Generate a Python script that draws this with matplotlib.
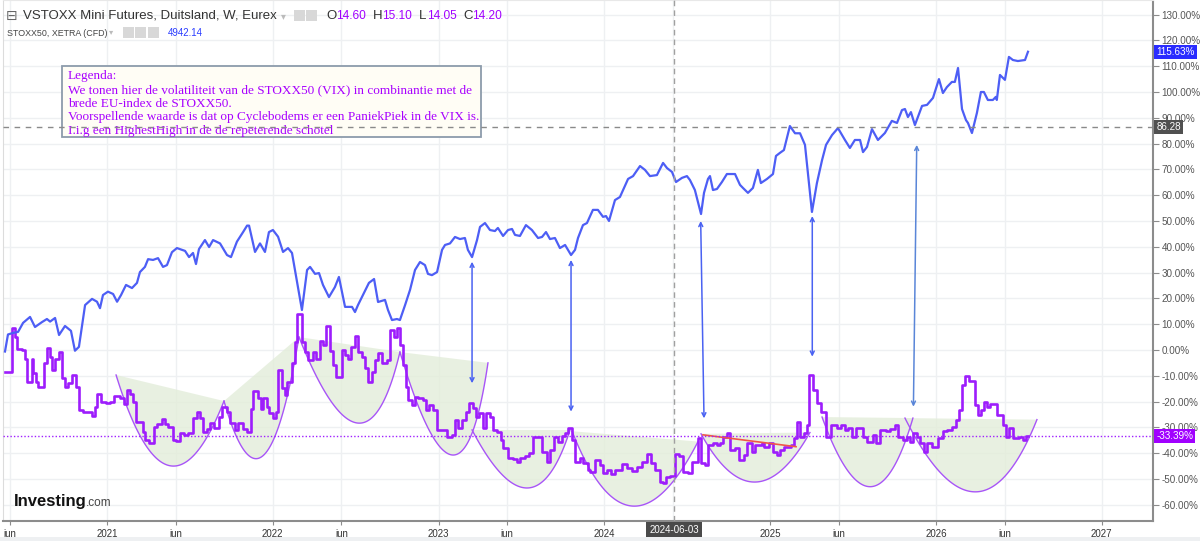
import matplotlib
matplotlib.use("Agg")
import matplotlib.pyplot as plt
import matplotlib.transforms as mtransforms
from matplotlib.patches import Rectangle
import numpy as np

plt.rcParams["font.family"] = ["Liberation Sans", "DejaVu Sans"]

# STOXX50 (% change since start), time in decimal years
stoxx_t = [
    2020.385, 2020.403, 2020.433, 2020.464, 2020.494, 2020.536, 2020.566, 2020.608, 2020.638, 2020.657,
    2020.687, 2020.711, 2020.747, 2020.783, 2020.807, 2020.831, 2020.868, 2020.910, 2020.940, 2020.958, 2020.976,
    2021.006, 2021.037, 2021.061, 2021.085, 2021.115, 2021.151, 2021.181, 2021.199, 2021.229, 2021.248,
    2021.278, 2021.308, 2021.338, 2021.362, 2021.392, 2021.422, 2021.453, 2021.471, 2021.495, 2021.519,
    2021.537, 2021.555, 2021.591, 2021.616, 2021.640, 2021.682, 2021.724, 2021.748, 2021.784, 2021.821,
    2021.845, 2021.857, 2021.893, 2021.923, 2021.953, 2021.977,
    2022.001, 2022.032, 2022.062, 2022.092, 2022.116, 2022.176, 2022.207, 2022.225, 2022.255, 2022.279,
    2022.303, 2022.339, 2022.375, 2022.399, 2022.436, 2022.478, 2022.496, 2022.514, 2022.544, 2022.580,
    2022.611, 2022.635, 2022.677, 2022.695, 2022.719, 2022.749, 2022.767, 2022.798, 2022.828, 2022.858,
    2022.888, 2022.918, 2022.936, 2022.960, 2022.991,
    2023.021, 2023.039, 2023.069, 2023.099, 2023.129, 2023.159, 2023.177, 2023.202, 2023.232, 2023.250,
    2023.280, 2023.310, 2023.340, 2023.358, 2023.389, 2023.419, 2023.443, 2023.461, 2023.491, 2023.527,
    2023.563, 2023.600, 2023.624, 2023.648, 2023.672, 2023.702, 2023.732, 2023.763, 2023.799, 2023.823,
    2023.841, 2023.871, 2023.895, 2023.931, 2023.961, 2023.992,
    2024.010, 2024.028, 2024.064, 2024.094, 2024.143, 2024.173, 2024.215, 2024.245, 2024.275, 2024.317,
    2024.354, 2024.378, 2024.408, 2024.432, 2024.468, 2024.498, 2024.516, 2024.546, 2024.583, 2024.601,
    2024.625, 2024.637, 2024.655, 2024.679, 2024.709, 2024.739, 2024.788, 2024.818, 2024.836, 2024.866,
    2024.896, 2024.926, 2024.944, 2024.981,
    2025.017, 2025.035, 2025.059, 2025.083, 2025.119, 2025.150, 2025.180, 2025.210, 2025.252, 2025.282,
    2025.313, 2025.337, 2025.373, 2025.409, 2025.451, 2025.481, 2025.511, 2025.542, 2025.560, 2025.584,
    2025.614, 2025.650, 2025.692, 2025.734, 2025.765, 2025.795, 2025.813, 2025.831, 2025.849, 2025.873,
    2025.916, 2025.946, 2025.982,
    2026.018, 2026.042, 2026.066, 2026.096, 2026.114, 2026.133, 2026.157, 2026.181, 2026.193, 2026.217,
    2026.247, 2026.271, 2026.289, 2026.313, 2026.343, 2026.361, 2026.367, 2026.386, 2026.416, 2026.440,
    2026.464, 2026.494, 2026.537, 2026.555,
]
stoxx_pct = [
    -0.6, 6.0, 6.6, 7.0, 10.5, 12.8, 8.9, 10.8, 12.0, 11.0,
    12.4, 5.8, 9.3, 7.4, -0.3, 1.2, 17.4, 19.8, 18.7, 16.2, 21.3,
    22.6, 21.7, 18.7, 21.3, 25.2, 24.0, 26.0, 30.2, 32.2, 35.2,
    34.9, 35.6, 32.2, 32.9, 37.9, 39.5, 38.8, 38.4, 36.0, 37.6,
    33.3, 39.1, 42.6, 39.9, 42.6, 41.3, 36.8, 36.0, 42.0, 45.7,
    48.2, 48.2, 38.0, 41.3, 38.0, 45.7,
    46.5, 43.9, 38.0, 39.5, 37.6, 15.5, 31.0, 32.2, 29.5, 29.8,
    25.2, 20.5, 24.4, 28.3, 16.7, 16.7, 14.7, 17.4, 21.3, 26.0,
    27.5, 18.6, 19.4, 15.5, 11.6, 12.0, 11.6, 17.4, 23.3, 31.0,
    34.1, 32.9, 29.5, 29.0, 30.2,
    38.8, 40.7, 41.3, 43.8, 43.0, 43.4, 38.8, 36.0, 42.6, 47.7,
    49.2, 46.5, 46.1, 47.3, 44.2, 46.5, 46.9, 44.6, 44.2, 48.4,
    46.5, 43.4, 43.8, 45.7, 43.0, 43.4, 39.5, 40.7, 36.8, 38.8,
    43.4, 48.4, 49.2, 54.3, 54.3, 51.6,
    51.9, 50.0, 58.1, 59.3, 66.3, 67.4, 71.3, 69.8, 67.4, 67.8,
    72.5, 70.5, 69.0, 65.1, 66.7, 67.4, 65.9, 62.0, 52.7, 60.9,
    66.3, 67.4, 62.0, 62.4, 65.1, 68.2, 68.2, 64.0, 62.8, 60.9,
    62.8, 69.8, 64.7, 66.3,
    68.2, 75.2, 76.4, 77.5, 86.8, 84.0, 84.0, 79.5, 53.5, 64.7,
    73.6, 79.5, 83.3, 86.0, 81.4, 78.3, 81.4, 81.4, 76.7, 78.7,
    85.6, 81.4, 84.1, 88.8, 88.0, 93.0, 93.4, 90.3, 92.2, 87.2,
    94.6, 95.0, 97.7,
    105.0, 99.6, 101.9, 103.9, 103.9, 109.3, 93.4, 89.1, 88.0, 84.1,
    91.9, 100.0, 100.0, 96.9, 96.9, 98.1, 96.9, 106.6, 104.7, 113.6,
    112.4, 112.0, 112.4, 115.6,
]

# VSTOXX (% change), weekly steps
vstoxx_t = [
    2020.385, 2020.425, 2020.445, 2020.459, 2020.486, 2020.506, 2020.520, 2020.546, 2020.556, 2020.570,
    2020.586, 2020.620, 2020.637, 2020.657, 2020.671, 2020.687, 2020.713, 2020.731, 2020.747, 2020.767,
    2020.787, 2020.813, 2020.833, 2020.854, 2020.878, 2020.908, 2020.928, 2020.942, 2020.962, 2020.994,
    2021.018, 2021.043, 2021.079, 2021.103, 2021.119, 2021.139, 2021.159, 2021.175, 2021.216, 2021.229,
    2021.254, 2021.284, 2021.304, 2021.330, 2021.350, 2021.370, 2021.397, 2021.416, 2021.441, 2021.465,
    2021.491, 2021.517, 2021.541, 2021.561, 2021.577, 2021.602, 2021.622, 2021.646, 2021.676, 2021.692,
    2021.722, 2021.742, 2021.772, 2021.792, 2021.819, 2021.843, 2021.867, 2021.883, 2021.909, 2021.929,
    2021.943, 2021.963, 2021.979, 2021.999,
    2022.019, 2022.033, 2022.054, 2022.074, 2022.088, 2022.114, 2022.134, 2022.146, 2022.176, 2022.194,
    2022.214, 2022.244, 2022.261, 2022.285, 2022.305, 2022.321, 2022.345, 2022.362, 2022.382, 2022.416,
    2022.436, 2022.456, 2022.470, 2022.496, 2022.516, 2022.536, 2022.556, 2022.576, 2022.597, 2022.617,
    2022.637, 2022.657, 2022.687, 2022.707, 2022.731, 2022.751, 2022.767, 2022.784, 2022.804, 2022.818,
    2022.838, 2022.858, 2022.878, 2022.904, 2022.924, 2022.944, 2022.968, 2022.989,
    2023.049, 2023.079, 2023.099, 2023.119, 2023.139, 2023.165, 2023.185, 2023.206, 2023.226, 2023.246,
    2023.266, 2023.286, 2023.310, 2023.326, 2023.351, 2023.375, 2023.390, 2023.421, 2023.447, 2023.471,
    2023.491, 2023.521, 2023.547, 2023.571, 2023.622, 2023.652, 2023.672, 2023.696, 2023.722, 2023.743,
    2023.763, 2023.779, 2023.803, 2023.823, 2023.853, 2023.873, 2023.903, 2023.913, 2023.943, 2023.974,
    2023.994,
    2024.014, 2024.038, 2024.064, 2024.104, 2024.135, 2024.165, 2024.195, 2024.225, 2024.255, 2024.281,
    2024.305, 2024.335, 2024.355, 2024.372, 2024.396, 2024.426, 2024.452, 2024.476, 2024.506, 2024.527,
    2024.567, 2024.581, 2024.607, 2024.627, 2024.657, 2024.681, 2024.697, 2024.717, 2024.738, 2024.758,
    2024.788, 2024.814, 2024.842, 2024.862, 2024.888, 2024.908, 2024.949, 2024.964, 2024.995,
    2025.015, 2025.039, 2025.059, 2025.083, 2025.109, 2025.124, 2025.144, 2025.164, 2025.180, 2025.204,
    2025.220, 2025.236, 2025.260, 2025.284, 2025.305, 2025.337, 2025.365, 2025.401, 2025.425, 2025.451,
    2025.471, 2025.492, 2025.518, 2025.562, 2025.586, 2025.618, 2025.638, 2025.662, 2025.698, 2025.722,
    2025.753, 2025.773, 2025.799, 2025.823, 2025.843, 2025.859, 2025.884, 2025.904, 2025.928, 2025.944,
    2025.974,
    2026.014, 2026.040, 2026.064, 2026.095, 2026.121, 2026.141, 2026.155, 2026.175, 2026.201, 2026.235,
    2026.255, 2026.270, 2026.290, 2026.310, 2026.326, 2026.346, 2026.366, 2026.402, 2026.422, 2026.442,
    2026.463, 2026.503, 2026.527, 2026.543, 2026.555,
]
vstoxx_pct = [
    -8.4, 8.6, 5.2, 0.4, 0.0, -3.5, -12.3, -3.5, -9.0, -12.3,
    -14.3, -5.0, 0.6, -2.6, -7.8, -3.6, -0.6, -11.0, -14.3, -12.7,
    -9.7, -14.3, -23.3, -23.9, -24.2, -25.6, -22.3, -17.1, -20.1, -20.5,
    -20.1, -17.8, -18.8, -20.8, -15.6, -16.9, -20.1, -27.8, -31.7, -34.9,
    -36.2, -30.0, -28.7, -26.9, -28.7, -29.7, -34.9, -35.1, -32.3, -32.9,
    -32.0, -26.4, -23.9, -26.4, -31.7, -30.8, -28.2, -30.4, -25.8, -22.0,
    -23.9, -28.2, -31.0, -28.2, -30.8, -31.7, -23.0, -16.1, -18.8, -22.7,
    -18.6, -22.3, -24.6, -26.4,
    -23.9, -7.8, -14.9, -17.4, -12.3, -5.2, 3.2, 14.0, 3.2, -0.6,
    -3.9, -0.6, -3.6, 3.6, 1.9, 9.3, -0.3, -5.8, -10.3, 0.0,
    -1.9, -3.6, 1.3, 5.4, -0.6, -2.6, -7.1, -12.3, -8.4, -3.9,
    -1.3, -5.2, -3.9, 7.8, 5.2, 8.4, 1.9, -5.8, -14.2, -19.4,
    -21.3, -18.1, -18.8, -19.4, -23.3, -21.3, -23.3, -31.0,
    -33.9, -33.0, -27.1, -30.4, -27.1, -23.9, -20.7, -22.6, -25.8, -24.5,
    -30.4, -24.3, -25.8, -31.0, -31.7, -34.9, -38.1, -42.0, -42.4, -43.3,
    -42.0, -41.1, -40.1, -33.9, -39.4, -43.3, -38.8, -33.9, -35.5, -33.3,
    -32.3, -30.4, -34.9, -43.3, -42.0, -43.9, -46.5, -47.2, -42.6, -44.6,
    -47.8,
    -46.5, -48.0, -46.5, -44.3, -45.9, -46.9, -45.2, -43.3, -40.3, -43.9,
    -46.5, -51.0, -51.7, -49.1, -48.8, -40.4, -41.0, -47.2, -47.8, -43.3,
    -34.2, -43.9, -44.6, -36.8, -35.9, -36.8, -36.2, -33.6, -32.0, -38.8,
    -38.1, -42.6, -40.7, -36.2, -39.5, -36.8, -36.2, -37.5, -36.2,
    -39.5, -40.7, -38.8, -37.8, -37.5, -36.8, -34.2, -27.8, -33.6, -32.0,
    -29.1, -9.7, -15.5, -20.7, -23.9, -33.6, -29.1, -30.4, -29.1, -31.0,
    -30.4, -33.6, -30.4, -33.6, -35.5, -32.9, -36.2, -31.0, -31.3, -30.7,
    -29.1, -33.6, -34.9, -33.6, -35.5, -32.0, -33.6, -36.2, -39.4, -36.2,
    -37.5,
    -34.2, -31.3, -31.0, -29.7, -27.1, -23.3, -13.6, -10.1, -11.9, -21.3,
    -25.2, -23.3, -20.0, -22.0, -21.0, -20.8, -25.2, -29.1, -33.6, -30.4,
    -34.2, -33.6, -34.9, -33.4, -33.4,
]

# "schotel" arcs drawn on the VSTOXX: left end, lowest point, right end
arc_left_t = [2021.055, 2021.706, 2022.158, 2022.767, 2023.202, 2023.805, 2024.583, 2025.313, 2025.813]
arc_left_v = [-9.7, -19.8, 5.0, -0.8, -31.0, -31.5, -32.5, -26.0, -26.4]
arc_low_t = [2021.374, 2021.941, 2022.508, 2023.081, 2023.533, 2024.167, 2024.908, 2025.602, 2026.235]
arc_low_v = [-44.8, -41.0, -28.3, -40.7, -53.5, -60.5, -51.2, -53.0, -55.0]
arc_right_t = [2021.706, 2022.158, 2022.767, 2023.298, 2023.793, 2024.565, 2025.240, 2025.861, 2026.609]
arc_right_v = [-19.8, 5.0, -0.8, -5.0, -31.0, -35.5, -32.0, -26.4, -27.0]

# double arrows: STOXX50 low <-> VSTOXX panic peak
arrow_top_t = [2023.202, 2023.799, 2024.581, 2025.254, 2025.884]
arrow_top_v = [34.2, 34.9, 50.0, 51.9, 79.5]
arrow_bot_t = [2023.202, 2023.799, 2024.601, 2025.254, 2025.864]
arrow_bot_v = [-12.9, -23.9, -26.5, -2.6, -22.0]

trend_t = [2024.595, 2025.156]
trend_v = [-32.9, -37.5]

crosshair_t = 2024.42
level_line = 86.28
last_stoxx = 115.63
last_vstoxx = -33.39

tick_pos = [2020.414, 2021, 2021.414, 2022, 2022.414, 2023, 2023.414, 2024, 2024.414,
            2025, 2025.414, 2026, 2026.414, 2027]
tick_lab = ["jun", "2021", "jun", "2022", "jun", "2023", "jun", "2024", "",
            "2025", "jun", "2026", "jun", "2027"]

legend_lines = [
    "Legenda:",
    "We tonen hier de volatiliteit van de STOXX50 (VIX) in combinantie met de",
    "brede EU-index de STOXX50.",
    "Voorspellende waarde is dat op Cyclebodems er een PaniekPiek in de VIX is.",
    "I.i.g een HighestHigh in de de repeterende schotel",
]


def arc_points(p0, pb, p2, n=80):
    # quadratic bezier through the lowest point at its middle
    p0, pb, p2 = np.array(p0), np.array(pb), np.array(p2)
    p1 = 2 * pb - 0.5 * (p0 + p2)
    s = np.linspace(0, 1, n)[:, None]
    pts = (1 - s) ** 2 * p0 + 2 * s * (1 - s) * p1 + s ** 2 * p2
    return pts[:, 0], pts[:, 1]


W, H = 1200, 541
fig = plt.figure(figsize=(W / 100, H / 100), dpi=100)
ax = fig.add_axes([3 / W, 20 / H, 1150 / W, 521 / H])
ax.set_xlim(2020.373, 2027.309)
ax.set_ylim(-66.3, 135.66)

ax.set_yticks(np.arange(-60, 131, 10))
ax.yaxis.set_major_formatter(matplotlib.ticker.FuncFormatter(lambda v, p: f"{v:.2f}%"))
ax.yaxis.tick_right()
ax.set_xticks(tick_pos)
ax.set_xticklabels(tick_lab)
ax.tick_params(axis="y", length=4, color="#8c8c8c", labelsize=7.1, labelcolor="#555555", pad=2)
ax.tick_params(axis="x", length=3, color="#8c8c8c", labelsize=7, labelcolor="#333333", pad=3)
ax.grid(True, color="#eef0f2", lw=1.0, zorder=0)
ax.set_axisbelow(True)
for side in ("right", "bottom"):
    ax.spines[side].set_color("#8c8c8c")
    ax.spines[side].set_linewidth(1.5)
ax.spines["left"].set_color("#dcdcdc")
ax.spines["top"].set_color("#e8e8e8")

# schotels
for i in range(len(arc_low_t)):
    xs, ys = arc_points((arc_left_t[i], arc_left_v[i]), (arc_low_t[i], arc_low_v[i]),
                        (arc_right_t[i], arc_right_v[i]))
    ax.fill(xs, ys, color="#e3edda", alpha=0.8, lw=0, zorder=1)
    ax.plot(xs, ys, color="#a855f7", lw=1.0, zorder=2)

ax.step(vstoxx_t, vstoxx_pct, where="post", color="#9d1dfc", lw=1.9, zorder=3)
ax.plot(stoxx_t, stoxx_pct, color="#4d5ef5", lw=1.6, zorder=3)

ax.plot(trend_t, trend_v, color="#f0554a", lw=1.2, zorder=4)

for i in range(len(arrow_top_t)):
    col = "#4a62f2" if i < len(arrow_top_t) - 1 else "#5a86d8"
    ax.annotate("", xy=(arrow_bot_t[i], arrow_bot_v[i]), xytext=(arrow_top_t[i], arrow_top_v[i]),
                arrowprops=dict(arrowstyle="<->", color=col, lw=1.1, shrinkA=0, shrinkB=0,
                                mutation_scale=7), zorder=4)

ax.axhline(last_vstoxx, color="#a020ff", lw=1.0, ls=(0, (1, 1.5)), zorder=4)
ax.axvline(crosshair_t, color="#a0a0a0", lw=1.0, ls=(0, (4, 3)), zorder=4)

# legend box (in the chart, under the price line)
ax.add_patch(Rectangle((62 / W, 1 - 137 / H), 419 / W, 71 / H, transform=fig.transFigure,
                       facecolor="#fffdf5", edgecolor="#8c9bab", lw=1.3, zorder=5, clip_on=False))
ax.text(68 / W, 1 - 70 / H, "\n".join(legend_lines), transform=fig.transFigure, ha="left", va="top",
        fontsize=9.5, family="Liberation Serif", color="#a800ff", linespacing=1.2, zorder=6)
ax.axhline(level_line, color="#8a8a8a", lw=1.0, ls=(0, (4, 4)), zorder=7)

# value labels on the right scale
trans = mtransforms.blended_transform_factory(ax.transAxes, ax.transData)
for val, txt, bg in [(last_stoxx, f"{last_stoxx:.2f}%", "#2a2cff"),
                     (level_line, f"{level_line:.2f}", "#505050"),
                     (last_vstoxx, f"{last_vstoxx:.2f}%", "#a100ff")]:
    ax.text(1.003, val, txt, transform=trans, ha="left", va="center", fontsize=7.1, color="white",
            bbox=dict(boxstyle="square,pad=0.2", fc=bg, ec="none"), zorder=8, clip_on=False)

xtrans = mtransforms.blended_transform_factory(ax.transData, ax.transAxes)
ax.text(crosshair_t, -0.018, "2024-06-03", transform=xtrans, ha="center", va="center", fontsize=7,
        color="white", bbox=dict(boxstyle="square,pad=0.35", fc="#4a4a4a", ec="none"), clip_on=False, zorder=8)


# header
def ftext(x, y, s, **kw):
    fig.text(x / W, 1 - y / H, s, va="center", ha="left", **kw)


ftext(6, 16, "\u229f", fontsize=10, color="#666666")
ftext(23, 16, "VSTOXX Mini Futures, Duitsland, W, Eurex", fontsize=9.5, color="#333333")
ftext(281, 16, "\u25be", fontsize=7, color="#bbbbbb")
for x0 in (294, 306):
    fig.patches.append(Rectangle((x0 / W, 1 - 21 / H), 11 / W, 11 / H, transform=fig.transFigure,
                                 facecolor="#d8d8d8", edgecolor="none"))
for x0, lab, x1, val in [(326, "O", 336, "14.60"), (373, "H", 382, "15.10"),
                         (419, "L", 427, "14.05"), (463, "C", 472, "14.20")]:
    ftext(x0, 16, lab, fontsize=9.5, color="#333333")
    ftext(x1, 16, val, fontsize=8.6, color="#a100ff")

ftext(7, 33, "STOXX50, XETRA (CFD)", fontsize=6.4, color="#444444")
ftext(109, 33, "\u25be", fontsize=6, color="#bbbbbb")
for x0 in (123, 135, 148):
    fig.patches.append(Rectangle((x0 / W, 1 - 38 / H), 11 / W, 11 / H, transform=fig.transFigure,
                                 facecolor="#d8d8d8", edgecolor="none"))
ftext(168, 33, "4942.14", fontsize=7.0, color="#2a3cff")

# logo
fig.text(14 / W, 1 - 506 / H, "Investing", fontsize=12, fontweight="bold", color="#111111", va="baseline")
fig.text(86 / W, 1 - 506 / H, ".com", fontsize=8.5, color="#444444", va="baseline")

fig.patches.append(Rectangle((0, 0), 1, 4 / H, transform=fig.transFigure, facecolor="#eef0f2",
                             edgecolor="none"))

fig.savefig("out.png", dpi=100)
